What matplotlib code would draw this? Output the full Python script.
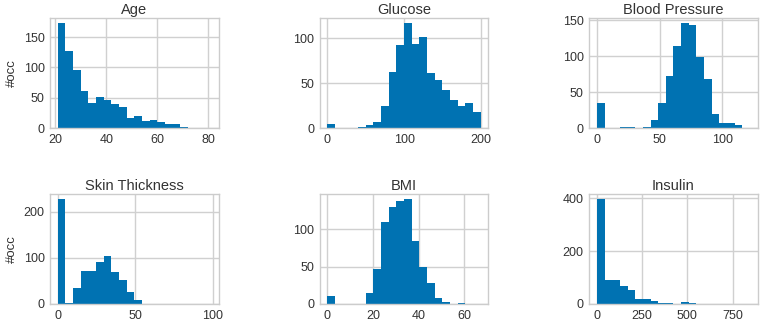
import numpy as np
import matplotlib
matplotlib.use("Agg")
import matplotlib.pyplot as plt

# histogram counts (20 bins each)
titles = ["Age", "Glucose", "Blood Pressure", "Skin Thickness", "BMI", "Insulin"]
ranges = [(21, 81), (0, 199), (0, 122), (0, 99), (0, 67.1), (0, 846)]

age = [173, 127, 96, 61, 41, 51, 47, 39, 34, 17, 20, 12, 14, 10, 7, 7, 2, 0, 0, 0]
glucose = [5, 0, 0, 0, 1, 3, 7, 25, 63, 93, 117, 94, 102, 61, 54, 42, 31, 25, 28, 18]
blood_pressure = [35, 0, 0, 1, 2, 0, 2, 11, 35, 72, 115, 146, 144, 99, 68, 19, 7, 7, 4, 0]
skin_thickness = [227, 2, 35, 71, 72, 91, 104, 70, 53, 25, 8, 1, 1, 0, 0, 0, 0, 0, 0, 0]
bmi = [11, 0, 0, 0, 0, 15, 47, 109, 130, 138, 140, 84, 50, 28, 8, 3, 0, 1, 0, 0]
insulin = [396, 92, 89, 67, 51, 20, 20, 12, 5, 3, 1, 6, 2, 1, 0, 0, 0, 0, 0, 0]

counts = [age, glucose, blood_pressure, skin_thickness, bmi, insulin]

plt.rcParams["font.family"] = ["Liberation Sans", "DejaVu Sans"]
plt.rcParams["font.size"] = 9

fig, axes = plt.subplots(2, 3, figsize=(7.6, 3.22), dpi=100)
fig.subplots_adjust(left=0.066, right=0.997, top=0.944, bottom=0.056,
                    wspace=0.6, hspace=0.6)

for ax, title, rng, c in zip(axes.flat, titles, ranges, counts):
    edges = np.linspace(rng[0], rng[1], len(c) + 1)
    ax.bar(edges[:-1], c, width=np.diff(edges), align="edge",
           color="#0072B2", linewidth=0, zorder=2)
    # keep the full data range on x, like a histogram would
    pad = (rng[1] - rng[0]) * 0.05
    ax.set_xlim(rng[0] - pad, rng[1] + pad)
    ax.set_title(title, fontsize=10.5, color="#333333", pad=3)
    ax.set_facecolor("white")
    ax.grid(True, color="#d0d0d0", linewidth=1, zorder=0)
    ax.set_axisbelow(True)
    for s in ax.spines.values():
        s.set_color("#cccccc")
        s.set_linewidth(1)
    ax.tick_params(length=0, labelsize=9, colors="#333333", pad=4)

axes[0, 0].set_ylabel("#occ", fontsize=9.5, color="#333333")
axes[1, 0].set_ylabel("#occ", fontsize=9.5, color="#333333")

fig.savefig("out.png", dpi=100)
